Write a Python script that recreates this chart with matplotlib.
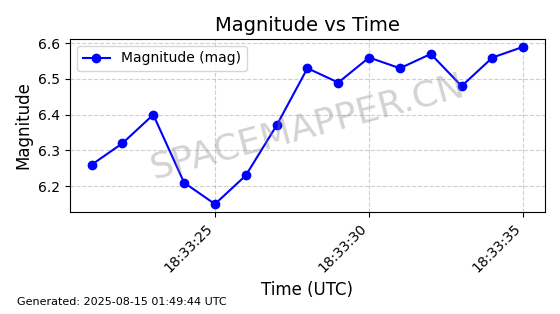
import numpy as np
import pandas as pd
import matplotlib
matplotlib.use("Agg")
import matplotlib.pyplot as plt
import matplotlib.dates as mdates

# Observation data
times = pd.date_range("2025-08-15 18:33:21", periods=15, freq="1s")
magnitudes = [6.26, 6.32, 6.40, 6.21, 6.15, 6.23, 6.37, 6.53, 6.49,
              6.56, 6.53, 6.57, 6.48, 6.56, 6.59]
generated = "Generated: 2025-08-15 01:49:44 UTC"

fig, ax = plt.subplots(figsize=(5.6, 3.14), dpi=100)
fig.subplots_adjust(left=0.125, right=0.973, top=0.876, bottom=0.325)

ax.plot(times, magnitudes, color="blue", marker="o", markersize=6,
        linewidth=1.5, label="Magnitude (mag)")

ax.set_title("Magnitude vs Time", fontsize=14)
ax.set_xlabel("Time (UTC)", fontsize=12)
ax.set_ylabel("Magnitude", fontsize=12)

ax.xaxis.set_major_locator(mdates.SecondLocator(bysecond=range(0, 60, 5)))
ax.xaxis.set_major_formatter(mdates.DateFormatter("%H:%M:%S"))
plt.setp(ax.get_xticklabels(), rotation=45, ha="right")

ax.grid(True, linestyle="--", alpha=0.6)
ax.legend(loc="upper left")

# watermark
ax.text(0.5, 0.49, "SPACEMAPPER.CN", transform=ax.transAxes, fontsize=26,
        color="gray", alpha=0.35, ha="center", va="center", rotation=15)

fig.text(0.03, 0.028, generated, fontsize=8)

fig.savefig("out.png", dpi=100)
